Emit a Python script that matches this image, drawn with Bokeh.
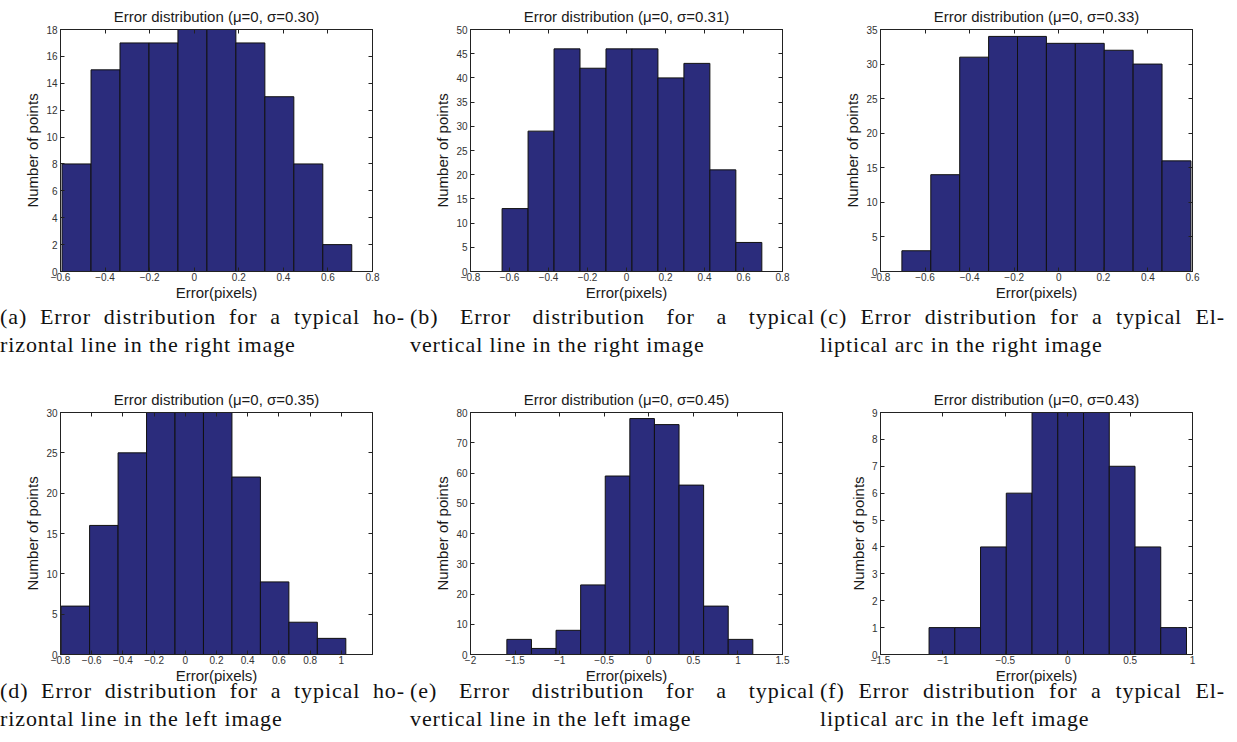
import numpy as np
from bokeh.plotting import figure
from bokeh.models import Range1d, FixedTicker, LinearAxis, Div
from bokeh.layouts import column, row
from bokeh.embed import file_html
from bokeh.resources import INLINE

# ---------------- data ----------------
titles = [
    "Error distribution (μ=0, σ=0.30)",
    "Error distribution (μ=0, σ=0.31)",
    "Error distribution (μ=0, σ=0.33)",
    "Error distribution (μ=0, σ=0.35)",
    "Error distribution (μ=0, σ=0.45)",
    "Error distribution (μ=0, σ=0.43)",
]
captions = [
    ("(a) Error distribution for a typical ho-", "rizontal line in the right image"),
    ("(b) Error distribution for a typical", "vertical line in the right image"),
    ("(c) Error distribution for a typical El-", "liptical arc in the right image"),
    ("(d) Error distribution for a typical ho-", "rizontal line in the left image"),
    ("(e) Error distribution for a typical", "vertical line in the left image"),
    ("(f) Error distribution for a typical El-", "liptical arc in the left image"),
]
x_label = "Error(pixels)"
y_label = "Number of points"

# histogram range (first edge, last edge) and counts of the 10 bins
a_bins = [-0.593, 0.707]
a_counts = [8, 15, 17, 17, 18, 18, 17, 13, 8, 2]
b_bins = [-0.638, 0.694]
b_counts = [13, 29, 46, 42, 46, 46, 40, 43, 21, 6]
c_bins = [-0.704, 0.593]
c_counts = [3, 14, 31, 34, 34, 33, 33, 32, 30, 16]
d_bins = [-0.796, 1.029]
d_counts = [6, 16, 25, 30, 30, 30, 22, 9, 4, 2]
e_bins = [-1.592, 1.167]
e_counts = [5, 2, 8, 23, 59, 78, 76, 56, 16, 5]
f_bins = [-1.111, 0.952]
f_counts = [1, 1, 4, 6, 9, 9, 9, 7, 4, 1]

# axis limits and ticks
a_xlim, a_ylim = [-0.6, 0.8], [0, 18]
b_xlim, b_ylim = [-0.8, 0.8], [0, 50]
c_xlim, c_ylim = [-0.8, 0.6], [0, 35]
d_xlim, d_ylim = [-0.8, 1.2], [0, 30]
e_xlim, e_ylim = [-2.0, 1.5], [0, 80]
f_xlim, f_ylim = [-1.5, 1.0], [0, 9]

a_xticks = [-0.6, -0.4, -0.2, 0, 0.2, 0.4, 0.6, 0.8]
b_xticks = [-0.8, -0.6, -0.4, -0.2, 0, 0.2, 0.4, 0.6, 0.8]
c_xticks = [-0.8, -0.6, -0.4, -0.2, 0, 0.2, 0.4, 0.6]
d_xticks = [-0.8, -0.6, -0.4, -0.2, 0, 0.2, 0.4, 0.6, 0.8, 1]
e_xticks = [-2, -1.5, -1, -0.5, 0, 0.5, 1, 1.5]
f_xticks = [-1.5, -1, -0.5, 0, 0.5, 1]

a_yticks = [0, 2, 4, 6, 8, 10, 12, 14, 16, 18]
b_yticks = [0, 5, 10, 15, 20, 25, 30, 35, 40, 45, 50]
c_yticks = [0, 5, 10, 15, 20, 25, 30, 35]
d_yticks = [0, 5, 10, 15, 20, 25, 30]
e_yticks = [0, 10, 20, 30, 40, 50, 60, 70, 80]
f_yticks = [0, 1, 2, 3, 4, 5, 6, 7, 8, 9]

panels = [
    (a_bins, a_counts, a_xlim, a_ylim, a_xticks, a_yticks),
    (b_bins, b_counts, b_xlim, b_ylim, b_xticks, b_yticks),
    (c_bins, c_counts, c_xlim, c_ylim, c_xticks, c_yticks),
    (d_bins, d_counts, d_xlim, d_ylim, d_xticks, d_yticks),
    (e_bins, e_counts, e_xlim, e_ylim, e_xticks, e_yticks),
    (f_bins, f_counts, f_xlim, f_ylim, f_xticks, f_yticks),
]

# ---------------- style ----------------
BAR = "#2B2C7C"
SANS = "Liberation Sans"
SERIF = "Liberation Serif"
TXT = "#1a1a1a"


def fmt(v):
    s = f"{v:g}"
    return s.replace("-", "\u2212")


def make_fig(i, top_border, frame_h, bottom_border):
    bins, counts, xlim, ylim, xt, yt = panels[i]
    p = figure(width=410, height=top_border + frame_h + bottom_border,
               x_range=Range1d(*xlim), y_range=Range1d(*ylim),
               output_backend="svg", toolbar_location=None,
               min_border_left=60, min_border_right=38,
               min_border_top=top_border, min_border_bottom=bottom_border,
               background_fill_color="white", border_fill_color="white")
    edges = np.linspace(bins[0], bins[1], len(counts) + 1)
    p.quad(left=edges[:-1], right=edges[1:], bottom=0, top=counts,
           fill_color=BAR, line_color="#111111", line_width=1)
    p.xgrid.visible = False
    p.ygrid.visible = False
    p.outline_line_color = "#222222"
    p.outline_line_width = 1

    p.title.text = titles[i]
    p.title.align = "center"
    p.title.text_font = SANS
    p.title.text_font_size = "15px"
    p.title.text_font_style = "normal"
    p.title.text_color = TXT
    p.title.standoff = 10

    xa = p.xaxis[0]
    xa.ticker = FixedTicker(ticks=xt)
    xa.major_label_overrides = {t: fmt(t) for t in xt}
    xa.axis_label = x_label
    ya = p.yaxis[0]
    ya.ticker = FixedTicker(ticks=yt)
    ya.major_label_overrides = {t: fmt(t) for t in yt}
    ya.axis_label = y_label
    for ax in (xa, ya):
        ax.major_tick_in = 4
        ax.major_tick_out = 0
        ax.minor_tick_line_color = None
        ax.axis_line_color = "#222222"
        ax.major_tick_line_color = "#222222"
        ax.major_label_text_font = SANS
        ax.major_label_text_font_size = "10px"
        ax.major_label_text_color = "#333333"
        ax.axis_label_text_font = SANS
        ax.axis_label_text_font_size = "15px"
        ax.axis_label_text_font_style = "normal"
        ax.axis_label_text_color = TXT
    xa.major_label_standoff = 1
    xa.axis_label_standoff = 0
    ya.major_label_standoff = 3
    ya.axis_label_standoff = 2

    top = LinearAxis(ticker=FixedTicker(ticks=xt))
    right = LinearAxis(ticker=FixedTicker(ticks=yt))
    for ax in (top, right):
        ax.major_tick_in = 4
        ax.major_tick_out = 0
        ax.minor_tick_line_color = None
        ax.major_label_text_font_size = "0px"
        ax.major_label_text_color = None
        ax.major_label_standoff = 0
        ax.axis_line_color = "#222222"
        ax.major_tick_line_color = "#222222"
    p.add_layout(top, "above")
    p.add_layout(right, "right")
    return p


def make_caption(i, h, shift):
    l1, l2 = captions[i]
    html = (f'<div style="position:relative;top:{shift}px;width:405px;'
            f'font-family:\'{SERIF}\',serif;font-size:22px;letter-spacing:0.9px;'
            f'line-height:28px;color:#111;">'
            f'<div style="text-align:justify;text-align-last:justify;">{l1}</div>'
            f'<div>{l2}</div></div>')
    return Div(text=html, width=410, height=h, margin=(0, 0, 0, 0))


row1 = row([make_fig(i, 28, 244, 31) for i in range(3)], spacing=0)
cap1 = row([make_caption(i, 57, 0) for i in range(3)], spacing=0)
row2 = row([make_fig(i, 52, 243, 31) for i in range(3, 6)], spacing=0)
cap2 = row([make_caption(i, 56, -9) for i in range(3, 6)], spacing=0)

layout = column([row1, cap1, row2, cap2], spacing=0)

open("out.html", "w").write(file_html(layout, INLINE))
